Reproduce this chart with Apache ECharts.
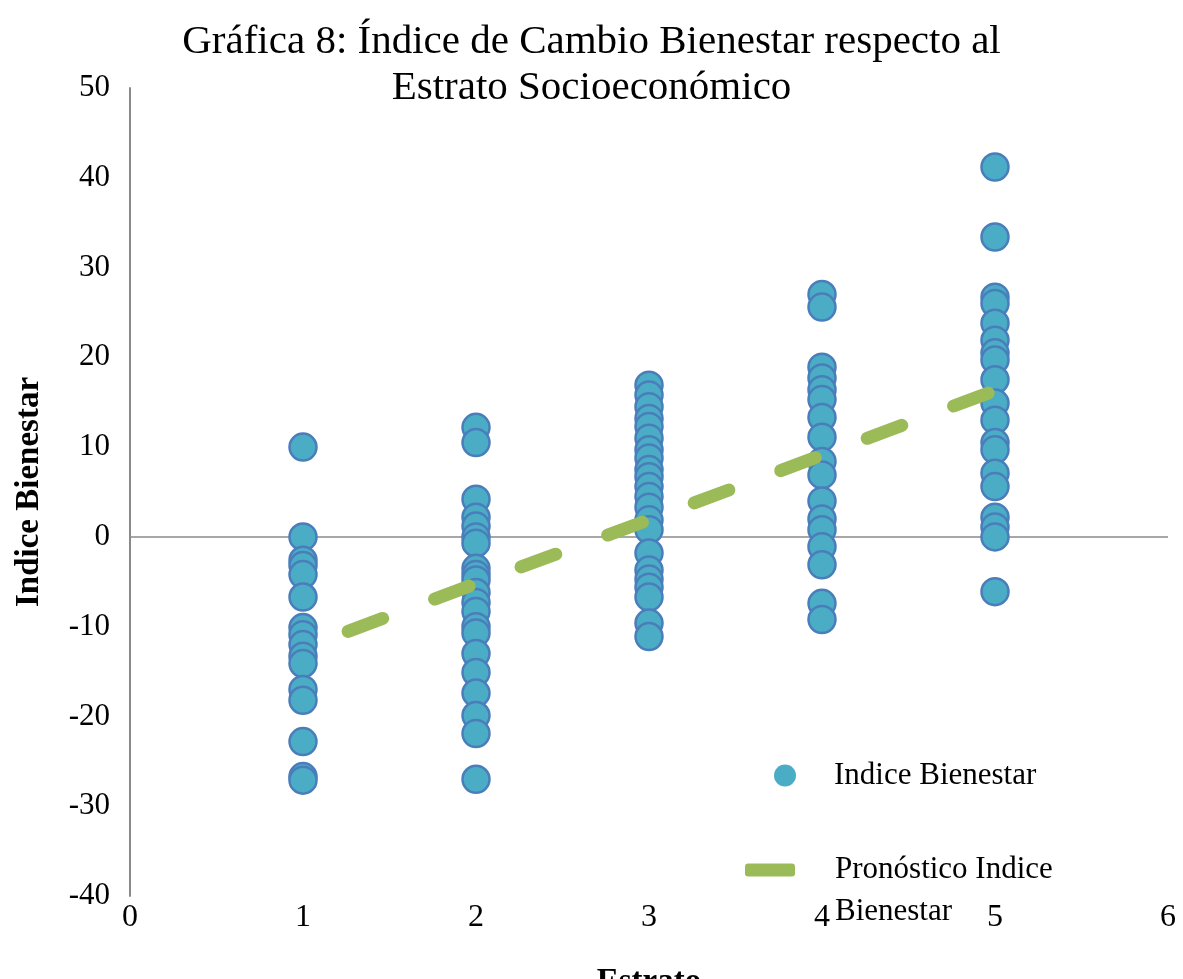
<!DOCTYPE html>
<html>
<head>
<meta charset="utf-8">
<script src="https://cdn.jsdelivr.net/npm/echarts@6/dist/echarts.min.js"></script>
<style>html,body{margin:0;padding:0;background:#fff}#c{width:1183px;height:979px}</style>
</head>
<body>
<div id="c"></div>
<script>
// Estrato categories (x positions)
var estratos = [1, 2, 3, 4, 5];
// Indice Bienestar values per estrato
var estrato1 = [10, 0, -2.6, -3.2, -4.2, -6.7, -10.1, -10.9, -12.0, -13.3, -14.1, -17.0, -18.2, -22.8, -26.7, -27.1];
var estrato2 = [12.2, 10.5, 4.2, 2.2, 1.2, 0, -0.7, -3.5, -4.2, -4.8, -6.2, -7.3, -8.3, -10.0, -10.7, -13.0, -15.1, -17.4, -19.9, -21.9, -27.0];
var estrato3 = [16.9, 15.8, 14.5, 13.2, 12.3, 11.0, 9.7, 8.8, 7.5, 6.7, 5.6, 4.5, 3.3, 1.9, 0.8, -1.8, -3.7, -4.7, -5.6, -6.7, -9.6, -11.1];
var estrato4 = [27.0, 25.6, 18.9, 17.7, 16.4, 15.3, 13.3, 11.1, 8.4, 6.9, 4.0, 2.0, 0.8, -1.1, -3.1, -7.4, -9.2];
var estrato5 = [41.2, 33.4, 26.7, 26.0, 23.8, 21.9, 20.5, 19.7, 17.5, 14.9, 13.0, 10.5, 9.7, 7.1, 5.6, 2.2, 1.1, 0, -6.1];
// Pronóstico (fitted) values at each estrato
var pronostico = [-12.4, -5.2, 1.9, 9.1, 16.3];
// Axis ticks
var xTicks = [0, 1, 2, 3, 4, 5, 6];
var yTicks = [-40, -30, -20, -10, 0, 10, 20, 30, 40, 50];

var groups = [estrato1, estrato2, estrato3, estrato4, estrato5];
var scatterData = [];
groups.forEach(function (g, i) {
  g.forEach(function (v) { scatterData.push([estratos[i], v]); });
});
var lineData = estratos.map(function (x, i) { return [x, pronostico[i]]; });

var serif = '"Liberation Serif", "DejaVu Serif", serif';
var chart = echarts.init(document.getElementById('c'), null, {renderer: 'canvas'});
chart.setOption({
  backgroundColor: '#ffffff',
  animation: false,
  title: {
    text: 'Gráfica 8: Índice de Cambio Bienestar respecto al\nEstrato Socioeconómico',
    left: 'center',
    top: 14,
    textStyle: {fontFamily: serif, fontSize: 41, fontWeight: 'normal', color: '#000', lineHeight: 46}
  },
  grid: {left: 130, right: 15, top: 88, bottom: 83, containLabel: false, outerBoundsMode: 'none'},
  legend: [{
    data: ['Indice Bienestar'],
    orient: 'vertical',
    left: 769, top: 755,
    icon: 'circle', itemWidth: 22, itemHeight: 22,
    itemStyle: {color: '#4BACC6', borderWidth: 0},
    textStyle: {fontFamily: serif, fontSize: 31, color: '#000', padding: [0, 0, 0, 33]}
  }, {
    data: ['Pronóstico Indice Bienestar'],
    orient: 'vertical',
    left: 740, top: 802,
    icon: 'roundRect', itemWidth: 50, itemHeight: 13,
    formatter: function () { return ' \nPronóstico Indice\nBienestar'; },
    textStyle: {fontFamily: serif, fontSize: 31, color: '#000', lineHeight: 42, padding: [0, 0, 0, 35]}
  }],
  xAxis: {
    type: 'value', min: xTicks[0], max: xTicks[xTicks.length - 1], interval: 1,
    name: 'Estrato', nameLocation: 'middle', nameGap: 70,
    nameTextStyle: {fontFamily: serif, fontSize: 33, fontWeight: 'bold', color: '#000', verticalAlign: 'top'},
    axisLine: {show: false, onZero: false},
    axisTick: {show: false},
    splitLine: {show: false},
    axisLabel: {fontFamily: serif, fontSize: 32, color: '#000', margin: 6}
  },
  yAxis: {
    type: 'value', min: yTicks[0], max: yTicks[yTicks.length - 1], interval: 10,
    name: 'Indice Bienestar', nameLocation: 'middle', nameGap: 84,
    nameTextStyle: {fontFamily: serif, fontSize: 33, fontWeight: 'bold', color: '#000'},
    axisLine: {show: true, onZero: false, lineStyle: {color: '#8a8a8a', width: 2}},
    axisTick: {show: false},
    splitLine: {show: false},
    axisLabel: {fontFamily: serif, fontSize: 31, color: '#000', margin: 20}
  },
  series: [{
    name: 'Indice Bienestar',
    type: 'scatter',
    data: scatterData,
    symbol: 'circle',
    symbolSize: 27,
    itemStyle: {color: '#4BACC6', borderColor: '#4A7EBB', borderWidth: 2.5, opacity: 1},
    markLine: {
      silent: true, symbol: 'none', label: {show: false},
      lineStyle: {color: '#8a8a8a', width: 1.5, type: 'solid'},
      data: [{yAxis: 0}],
      z: 1
    },
    z: 2
  }, {
    name: 'Pronóstico Indice Bienestar',
    type: 'line',
    data: lineData,
    symbol: 'none',
    showSymbol: false,
    itemStyle: {color: '#9BBB59'},
    lineStyle: {color: '#9BBB59', width: 13, cap: 'round', type: [37, 55.3], dashOffset: 44.2},
    z: 3
  }]
});
</script>
</body>
</html>
